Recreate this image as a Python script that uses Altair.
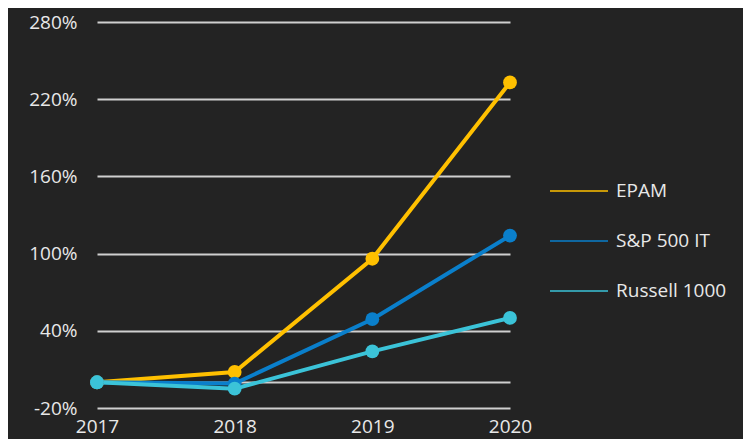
import altair as alt
import pandas as pd

years = [2017, 2018, 2019, 2020]
series_names = ["EPAM", "S&P 500 IT", "Russell 1000"]
epam = [0, 8, 96, 233]
sp500it = [0, -1, 49, 114]
russell = [0, -5, 24, 50]
colors = ["#FFC000", "#0A7FCB", "#3BC3D8"]
y_ticks = [-20, 0, 40, 100, 160, 220, 280]

rows = []
for name, vals in zip(series_names, [epam, sp500it, russell]):
    for yr, v in zip(years, vals):
        rows.append({"year": yr, "series": name, "value": v})
df = pd.DataFrame(rows)

FONT = "Open Sans"
TXT = "#E8E8E8"
FS = 19

color_scale = alt.Scale(domain=series_names, range=colors)

x = alt.X("year:Q", scale=alt.Scale(domain=[2017, 2020], nice=False, zero=False),
          axis=alt.Axis(values=years, format="d", title=None, grid=False, domain=False,
                        ticks=False, labelFontSize=FS, labelColor=TXT, labelFont=FONT,
                        labelPadding=9, labelFlush=False))
y = alt.Y("value:Q", scale=alt.Scale(domain=[-20, 280], nice=False, zero=False),
          axis=alt.Axis(values=y_ticks, title=None, domain=False, ticks=False,
                        labelExpr="datum.value == 0 ? '' : datum.value + '%'",
                        labelFontSize=FS, labelColor=TXT, labelFont=FONT, labelPadding=20,
                        grid=True, gridColor="#CFCFCF", gridWidth=2))

lines = alt.Chart(df).mark_line(strokeWidth=4).encode(
    x=x, y=y,
    color=alt.Color("series:N", scale=color_scale, sort=series_names,
                    legend=alt.Legend(title=None, orient="none", legendX=452, legendY=139,
                                      symbolType="stroke", symbolSize=3364, symbolStrokeWidth=1.5,
                                      labelFontSize=FS, labelColor=TXT, labelFont=FONT,
                                      labelOffset=7, rowPadding=10)),
    order=alt.Order("year:Q"),
)
points = alt.Chart(df).mark_point(filled=True, size=190, opacity=1).encode(
    x=x, y=y,
    color=alt.Color("series:N", scale=color_scale, sort=series_names, legend=None),
)

chart = alt.layer(lines, points).properties(
    width=413, height=386,
    background="#232323",
    padding={"left": 89, "top": 14, "right": 233, "bottom": 31},
    autosize=alt.AutoSizeParams(type="none"),
).configure_view(stroke=None)

chart.save("out.html", embed_options={"renderer": "svg", "actions": False})
